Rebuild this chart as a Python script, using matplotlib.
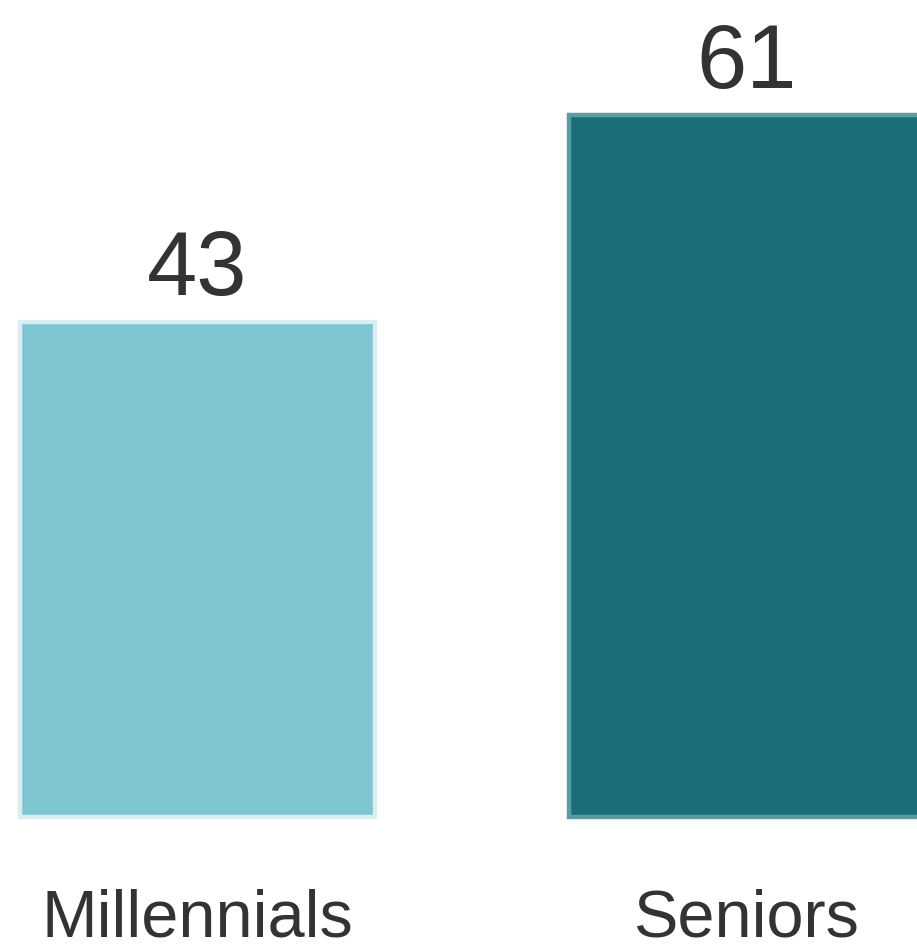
import matplotlib.pyplot as plt

plt.rcParams['font.family'] = ['Liberation Sans', 'DejaVu Sans']

# Survey values per generation
groups = ['Millennials', 'Seniors']
values = [43, 61]
fill_colors = ['#7ec6d1', '#1a6e78']
edge_colors = ['#d8eef1', '#5d9ca2']

fig = plt.figure(figsize=(9.17, 9.46), dpi=100)
ax = fig.add_axes([0, 0, 1, 1])

positions = list(range(len(groups)))
ax.bar(positions, values, width=0.647, color=fill_colors,
       edgecolor=edge_colors, linewidth=3.2)

# value labels above each bar
for x, v in zip(positions, values):
    ax.annotate(str(v), xy=(x, v), xytext=(0, 19.5), textcoords='offset points',
                ha='center', va='baseline', fontsize=65, color='#333333')

# category names under the bars
for x, name in zip(positions, groups):
    ax.text(x, -10.4, name, ha='center', va='baseline',
            fontsize=48, color='#333333')

ax.set_xlim(-0.36, 1.311)
ax.set_ylim(-11.2, 71.0)
ax.axis('off')

fig.savefig('out.png', dpi=100)
